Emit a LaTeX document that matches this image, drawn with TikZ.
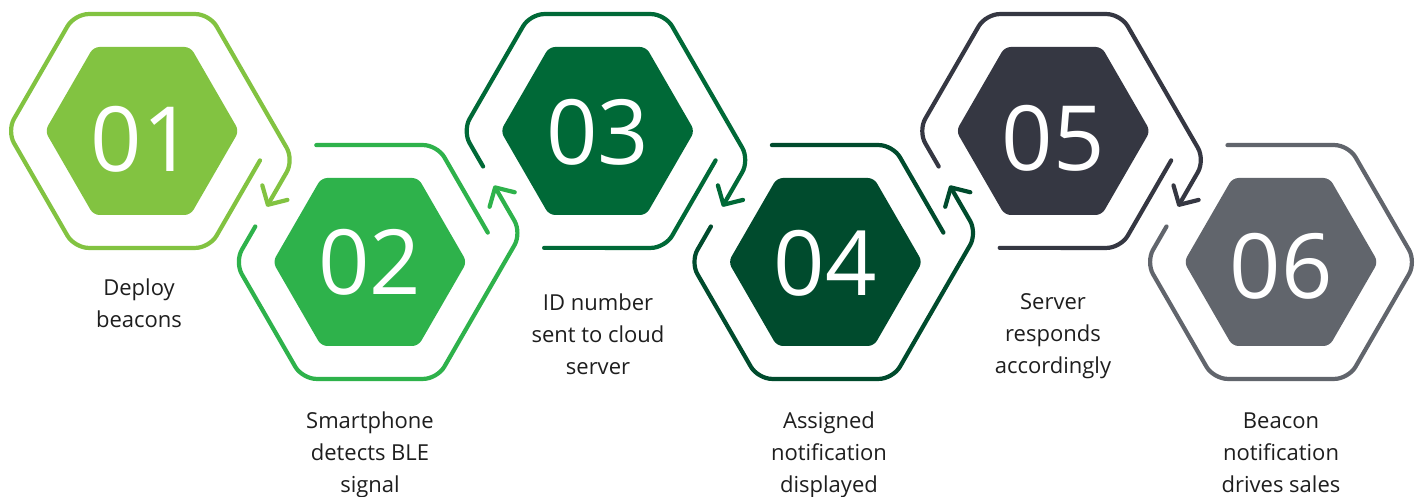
\documentclass[tikz,border=0pt]{standalone}
\usepackage{fontspec}
\setmainfont{Open Sans}
\usetikzlibrary{arrows.meta,shapes.geometric}
\definecolor{hexlime}{RGB}{130,195,65}
\definecolor{hexgreen}{RGB}{46,178,75}
\definecolor{hexforest}{RGB}{0,105,55}
\definecolor{hexpine}{RGB}{0,75,45}
\definecolor{hexslate}{RGB}{53,55,66}
\definecolor{hexgray}{RGB}{97,101,108}
\definecolor{captext}{RGB}{30,30,30}

\begin{document}
\begin{tikzpicture}[x=1pt,y=1pt,
  innerhex/.style={regular polygon, regular polygon sides=6, minimum size=194pt, inner sep=0pt, rounded corners=6pt},
  num/.style={font=\fontsize{90}{90}\selectfont, text=white, inner sep=0pt},
  caption/.style={font=\fontsize{22}{32}\selectfont, align=center, text=captext},
  ring/.style={line width=4.2pt, line cap=round, line join=round, rounded corners=14pt},
  ringarrow/.style={ring, -{Straight Barb[length=14pt,width=29pt,round]}}]
\path[use as bounding box, fill=white] (0,0) rectangle (1417,497);
% filled hexagons with step numbers
\foreach \i/\x/\y/\col/\dy in {1/142/366/hexlime/-8, 2/369.8/235/hexgreen/0, 3/597.6/366/hexforest/-1,
    4/825.4/235/hexpine/-1, 5/1053.2/366/hexslate/-7, 6/1281/235/hexgray/-4} {
  \coordinate (c\i) at (\x,\y);
  \node[innerhex, fill=\col] (h\i) at (c\i) {};
  \node[num] (n\i) at ([yshift=\dy pt]h\i.center) {0\i};
}
% first ring: one piece, arrow down to 02
\begin{scope}[shift={(c1)}, hexlime]
  \draw[ringarrow] (118,-29.4) -- (-60:135) -- (-120:135) -- (180:135) -- (120:135) -- (60:135) -- (151.7,-29) -- (124.8,-75.6);
\end{scope}
% upper rings: arrow down-right
\foreach \i/\col in {3/hexforest, 5/hexslate} {
  \begin{scope}[shift={(c\i)}, \col]
    \draw[ring] (-53.5,-116.9) -- (-60:135) -- (118,-29.4);
    \draw[ringarrow] (-114.5,-35.5) -- (180:135) -- (120:135) -- (60:135) -- (151.7,-29) -- (124.8,-75.6);
  \end{scope}
}
% lower rings: arrow up-right
\foreach \i/\col in {2/hexgreen, 4/hexpine} {
  \begin{scope}[shift={(c\i)}, \col]
    \draw[ring] (-53.5,116.9) -- (60:135) -- (118,29.4);
    \draw[ringarrow] (-114.5,35.5) -- (180:135) -- (-120:135) -- (-60:135) -- (151.7,29) -- (124.3,76.4);
  \end{scope}
}
% last ring, no arrow
\begin{scope}[shift={(c6)}, hexgray]
  \draw[ring] (-114.5,35.5) -- (180:135) -- (-120:135) -- (-60:135) -- (0:135) -- (60:135) -- (-53.5,116.9);
\end{scope}
% captions
\node[caption] (t1) at (139,194) {Deploy\\beacons};
\node[caption] (t2) at (370,42) {Smartphone\\detects BLE\\signal};
\node[caption] (t3) at (598,163) {ID number\\sent to cloud\\server};
\node[caption] (t4) at (829,42) {Assigned\\notification\\displayed};
\node[caption] (t5) at (1053,161) {Server\\responds\\accordingly};
\node[caption] (t6) at (1281,44) {Beacon\\notification\\drives sales};
\end{tikzpicture}
\end{document}
